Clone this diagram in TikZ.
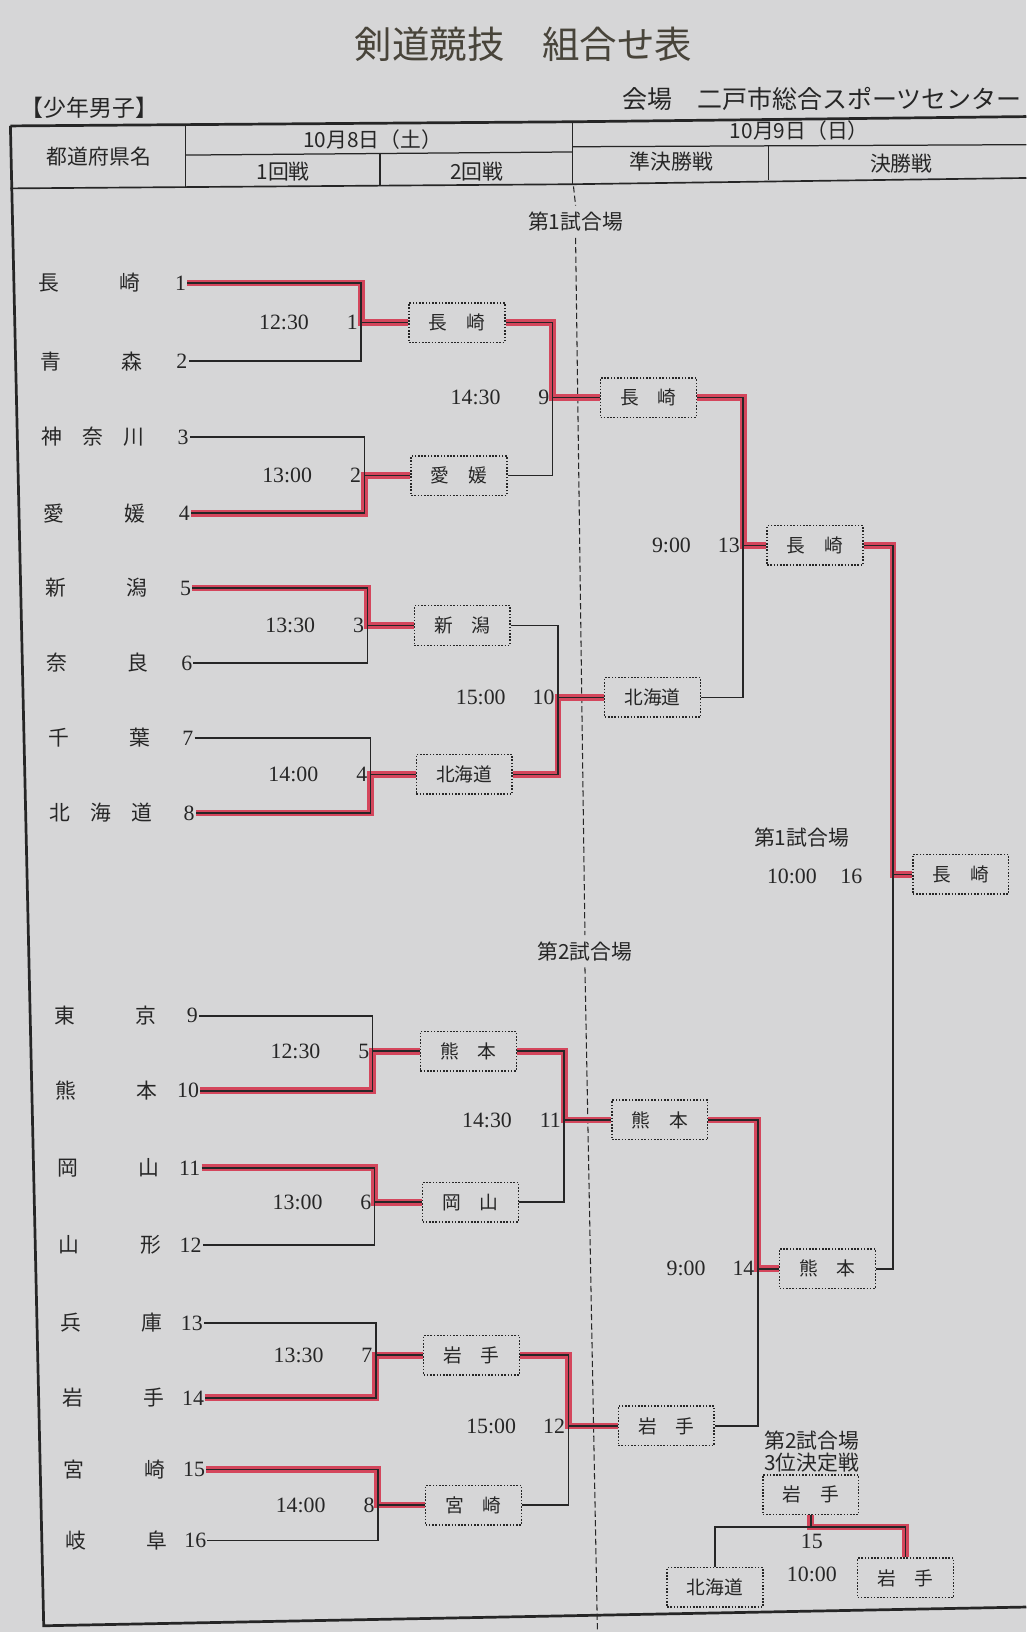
\documentclass[tikz,border=0pt]{standalone}
\usepackage{fontspec}
\setmainfont{Liberation Serif}
\newfontfamily\jp{Noto Sans CJK JP}

\definecolor{paper}{RGB}{214,214,215}
\definecolor{ink}{RGB}{38,38,38}
\definecolor{titleink}{RGB}{72,68,58}
\definecolor{winred}{RGB}{212,70,92}

\begin{document}
\begin{tikzpicture}[x=1pt,y=-1pt]
	
	\tikzset{
		thinrule/.style={draw=ink,line width=1.2pt},
		outerrule/.style={draw=ink,line width=2.6pt},
		bracket/.style={draw=ink,line width=1.5pt},
		winpath/.style={draw=winred,line width=6.5pt},
		wbox/.style={draw=ink,line width=1.4pt,dash pattern=on 1.5pt off 1.6pt,
			minimum width=92pt,minimum height=38pt,inner sep=0pt,
			font=\jp\fontsize{18}{20}\selectfont,text=ink},
		pname/.style={inner sep=0pt,font=\jp\fontsize{20}{24}\selectfont,text=ink},
		seednum/.style={inner sep=1pt,font=\fontsize{21}{24}\selectfont,text=ink},
		mnum/.style={inner sep=0pt,font=\fontsize{21}{24}\selectfont,text=ink},
		mtime/.style={inner sep=0pt,font=\fontsize{21}{24}\selectfont,text=ink},
		hdr/.style={inner sep=0pt,font=\jp\fontsize{20}{24}\selectfont,text=ink},
		sitelbl/.style={inner sep=1pt,font=\jp\fontsize{20}{24}\selectfont,text=ink},
		sitegap/.style={sitelbl,inner sep=6pt},
		sitedash/.style={draw=ink,line width=1pt,dash pattern=on 6pt off 3pt},
	}
	
	% Macro: junction of one match, with its number and start time
	% Arguments: coordinate name, x, y, match number, time
	\newcommand{\MatchAt}[5]{%
		\coordinate (#1) at (#2,#3);
		\node[mnum,anchor=east] (#1n) at ([xshift=-3pt]#1) {#4};
		\node[mtime,anchor=east] (#1t) at ([xshift=-50pt]#1) {#5};
	}
	
	% paper
	\fill[paper] (0,0) rectangle (986,1568);
	\useasboundingbox (0,0) rectangle (986,1568);
	
	%========================================
	% Title and header table
	%========================================
	\node[font=\jp\fontsize{36}{40}\selectfont,text=titleink] (title) at (503,43) {剣道競技　組合せ表};
	\node[hdr,font=\jp\fontsize{22}{26}\selectfont] (division) at (86,104) {【少年男子】};
	\node[hdr,anchor=west,font=\jp\fontsize{24}{28}\selectfont] (venue) at (598,95) {会場　二戸市総合スポーツセンター};
	
	\draw[outerrule] (10,121) -- (550,117) -- (986,112);
	\draw[outerrule] (10,121) -- (42,1562) -- (986,1544);
	\draw[thinrule,line width=1.6pt] (10,181) -- (550,177) -- (986,171);
	\draw[thinrule] (178,149) -- (550,146);
	\draw[thinrule] (550,141) -- (986,139);
	\draw[thinrule] (178,121) -- (178,180);
	\draw[thinrule] (365,148) -- (365,179);
	\draw[thinrule] (550,117) -- (550,177);
	\draw[thinrule] (738,140) -- (738,173);
	
	\node[hdr] (hpref) at (95,150) {都道府県名};
	\node[hdr] (hday1) at (358,134) {10月8日（土）};
	\node[hdr] (hr1) at (272,165) {1回戦};
	\node[hdr] (hr2) at (458,165) {2回戦};
	\node[hdr] (hday2) at (768,125) {10月9日（日）};
	\node[hdr] (hsf) at (645,155) {準決勝戦};
	\node[hdr] (hf) at (866,157) {決勝戦};
	
	% court divider
	\coordinate (dtop) at (551,179);
	\coordinate (dbot) at (574,1568);
	\node[sitegap] (site1) at (553,213) {第1試合場};
	\node[sitegap] (site2) at (562,914) {第2試合場};
	\draw[sitedash] (dtop) -- (site1.north);
	\draw[sitedash] (site1.south) -- (site2.north);
	\draw[sitedash] (site2.south) -- (dbot);
	
	%========================================
	% Prefectures and seed numbers
	%========================================
	\foreach \i/\y/\nm in {1/272/{長\hfill 崎},2/347/{青\hfill 森},3/420/{神\hfill 奈\hfill 川},
		4/493/{愛\hfill 媛},5/565/{新\hfill 潟},6/637/{奈\hfill 良},7/709/{千\hfill 葉},
		8/781/{北\hfill 海\hfill 道},9/976/{東\hfill 京},10/1048/{熊\hfill 本},11/1122/{岡\hfill 山},
		12/1196/{山\hfill 形},13/1271/{兵\hfill 庫},14/1343/{岩\hfill 手},15/1412/{宮\hfill 崎},
		16/1480/{岐\hfill 阜}}{
		\pgfmathsetmacro\xa{37+0.021*(\y-272)}
		\pgfmathsetmacro\xs{180+0.016*(\y-272)}
		\node[pname,anchor=west] (n\i) at (\xa,\y) {\hbox to 98pt{\nm}};
		\node[seednum,anchor=east] (t\i) at (\xs,\y) {\i};
	}
	
	%========================================
	% Court 1 (seeds 1-8)
	%========================================
	\MatchAt{j1}{347}{310}{1}{12:30}
	\MatchAt{j2}{350}{457}{2}{13:00}
	\MatchAt{j3}{353}{601}{3}{13:30}
	\MatchAt{j4}{356}{744}{4}{14:00}
	\node[wbox] (b1) at (439,310) {長　崎};
	\node[wbox] (b2) at (441,457) {愛　媛};
	\node[wbox] (b3) at (444,601) {新　潟};
	\node[wbox] (b4) at (446,744) {北海道};
	
	\MatchAt{j9}{531}{382}{9}{14:30}
	\MatchAt{j10}{536}{670}{10}{15:00}
	\node[wbox] (b9) at (623,382) {長　崎};
	\node[wbox] (b10) at (627,670) {北海道};
	
	\MatchAt{j13}{714}{524}{13}{9:00}
	\node[wbox] (b13) at (783,524) {長　崎};
	
	%========================================
	% Court 2 (seeds 9-16)
	%========================================
	\MatchAt{j5}{358}{1010}{5}{12:30}
	\MatchAt{j6}{360}{1155}{6}{13:00}
	\MatchAt{j7}{361}{1302}{7}{13:30}
	\MatchAt{j8}{363}{1446}{8}{14:00}
	\node[wbox] (b5) at (450,1010) {熊　本};
	\node[wbox] (b6) at (452,1155) {岡　山};
	\node[wbox] (b7) at (453,1302) {岩　手};
	\node[wbox] (b8) at (455,1446) {宮　崎};
	
	\MatchAt{j11}{542}{1076}{11}{14:30}
	\MatchAt{j12}{546}{1370}{12}{15:00}
	\node[wbox] (b11) at (634,1076) {熊　本};
	\node[wbox] (b12) at (640,1370) {岩　手};
	
	\MatchAt{j14}{728}{1219}{14}{9:00}
	\node[wbox] (b14) at (795,1219) {熊　本};
	
	%========================================
	% Final and 3rd place
	%========================================
	\coordinate (j16) at (858,840);
	\node[sitelbl] (site16) at (770,805) {第1試合場};
	\node[mtime,anchor=east] (j16t) at (785,842) {10:00};
	\node[mnum] (j16n) at (818,842) {16};
	\node[wbox] (b16) at (923,840) {長　崎};
	
	\node[sitelbl] (site15) at (780,1384) {第2試合場};
	\node[sitelbl] (title15) at (780,1405) {3位決定戦};
	\node[wbox] (b15) at (779,1436) {岩　手};
	\coordinate (j15) at (779,1467);
	\node[mnum] (j15n) at (780,1481) {15};
	\node[mtime] (j15t) at (780,1513) {10:00};
	\node[wbox] (p1) at (687,1525) {北海道};
	\node[wbox] (p2) at (870,1516) {岩　手};
	
	% winners (red)
	\foreach \s/\m in {t1/1,t4/2,t5/3,t8/4,t10/5,t11/6,t14/7,t15/8,
		b1/9,b4/10,b5/11,b7/12,b9/13,b11/14,b13/16}
		\draw[winpath] (\s.east) -| (j\m) -- (b\m.west);
	\draw[winpath] (b15.south) -- (j15) -| (p2.north);
	
	% bracket lines
	\foreach \a/\b/\m in {1/2/1,3/4/2,5/6/3,7/8/4,9/10/5,11/12/6,13/14/7,15/16/8}{
		\draw[bracket] (t\a.east) -| (j\m) |- (t\b.east);
		\draw[bracket] (j\m) -- (b\m.west);
	}
	\foreach \a/\b/\m in {1/2/9,3/4/10,5/6/11,7/8/12,9/10/13,11/12/14,13/14/16}{
		\draw[bracket] (b\a.east) -| (j\m) |- (b\b.east);
		\draw[bracket] (j\m) -- (b\m.west);
	}
	\draw[bracket] (p1.north) |- (j15) -| (p2.north);
	\draw[bracket] (j15) -- (b15.south);
	
\end{tikzpicture}
\end{document}
